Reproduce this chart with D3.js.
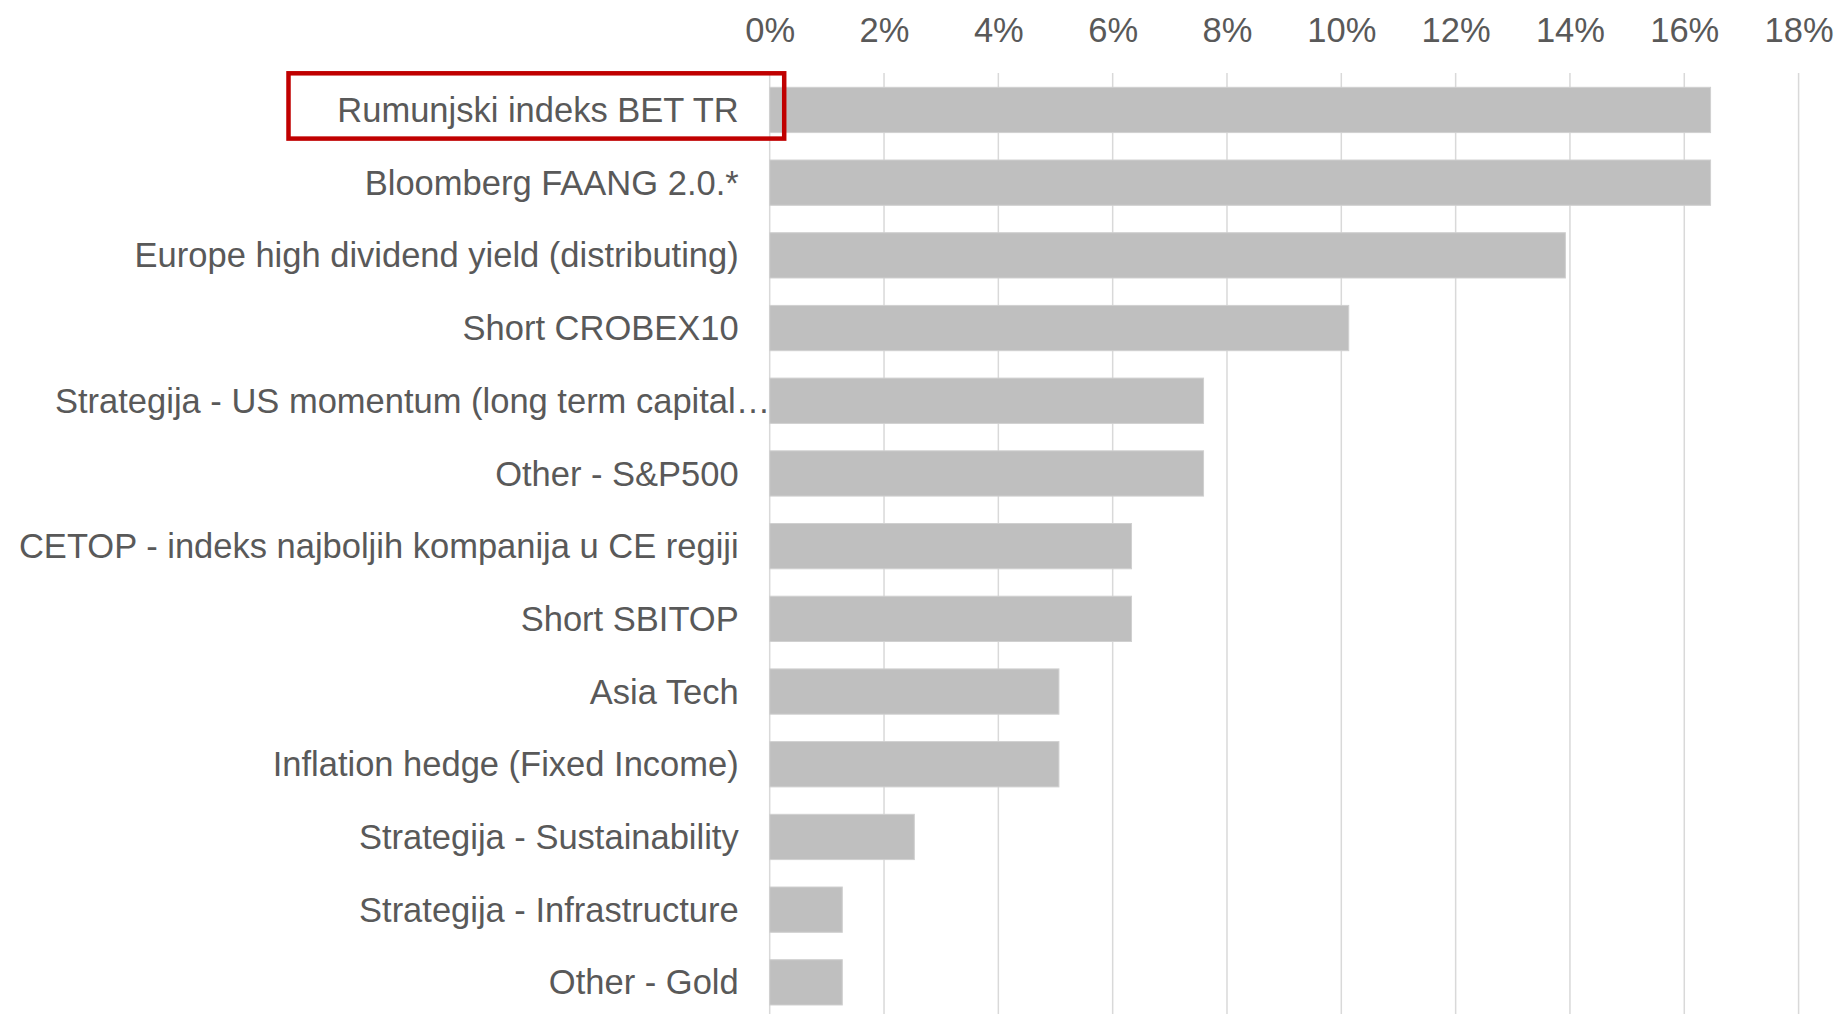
<!DOCTYPE html>
<html>
<head>
<meta charset="utf-8">
<script src="https://cdn.jsdelivr.net/npm/d3@7"></script>
<style>
  html, body { margin: 0; padding: 0; background: #fff; }
  svg { display: block; font-family: Arial, "Liberation Sans", sans-serif; }
</style>
</head>
<body>
<svg id="chart" width="1841" height="1014"></svg>
<script>
// categories, top to bottom
var categories = [
  "Rumunjski indeks BET TR",
  "Bloomberg FAANG 2.0.*",
  "Europe high dividend yield (distributing)",
  "Short CROBEX10",
  "Strategija - US momentum (long term capital\u2026",
  "Other - S&P500",
  "CETOP - indeks najboljih kompanija u CE regiji",
  "Short SBITOP",
  "Asia Tech",
  "Inflation hedge (Fixed Income)",
  "Strategija - Sustainability",
  "Strategija - Infrastructure",
  "Other - Gold"
];
// share of votes, %
var values = [16.46, 16.46, 13.92, 10.13, 7.59, 7.59, 6.33, 6.33, 5.06, 5.06, 2.53, 1.27, 1.27];
var tickValues = [0, 2, 4, 6, 8, 10, 12, 14, 16, 18];
var highlighted = "Rumunjski indeks BET TR";

var svg = d3.select("#chart");
var fontSize = 34.5;
var textColor = "#595959";

var x = d3.scaleLinear().domain([0, 18]).range([769.7, 1798.6]);
var y = d3.scaleBand()
    .domain(categories)
    .range([73.6, 1018.7])
    .paddingInner(0.377)
    .paddingOuter(0.1885);

// gridlines
svg.append("g")
    .selectAll("line")
    .data(tickValues)
    .enter().append("line")
    .attr("x1", function(d) { return x(d); })
    .attr("x2", function(d) { return x(d); })
    .attr("y1", 73)
    .attr("y2", 1014)
    .attr("stroke", "#d9d9d9")
    .attr("stroke-width", 1.5);

// top axis labels
var xAxis = d3.axisTop(x)
    .tickValues(tickValues)
    .tickSize(0)
    .tickPadding(0)
    .tickFormat(function(d) { return d + "%"; });

var ax = svg.append("g")
    .attr("transform", "translate(0,41.7)")
    .call(xAxis);
ax.select(".domain").remove();
ax.selectAll("text")
    .attr("dy", 0)
    .attr("fill", textColor)
    .style("font-size", fontSize + "px")
    .style("font-family", "Arial, 'Liberation Sans', sans-serif");

// bars
svg.append("g")
    .selectAll("rect")
    .data(categories)
    .enter().append("rect")
    .attr("x", x(0))
    .attr("y", function(d) { return y(d); })
    .attr("width", function(d, i) { return x(values[i]) - x(0); })
    .attr("height", y.bandwidth())
    .attr("fill", "#bfbfbf")
    .attr("stroke", "#d0d0d0")
    .attr("stroke-width", 1);

// category labels (a label cut off with an ellipsis starts at the left margin)
var labelX = x(0) - 31;
var cutLeft = 55;
svg.append("g")
    .selectAll("text")
    .data(categories)
    .enter().append("text")
    .attr("y", function(d) { return y(d) + y.bandwidth() / 2; })
    .attr("dy", "0.35em")
    .attr("fill", textColor)
    .style("font-size", fontSize + "px")
    .attr("x", function(d) { return d.slice(-1) == "\u2026" ? cutLeft : labelX; })
    .attr("text-anchor", function(d) { return d.slice(-1) == "\u2026" ? "start" : "end"; })
    .text(function(d) { return d; });

// highlight box around the first category
var yb = y(highlighted);
svg.append("rect")
    .attr("x", 288.5)
    .attr("y", yb - 14)
    .attr("width", x(0) + 14.5 - 288.5)
    .attr("height", y.bandwidth() + 20)
    .attr("fill", "none")
    .attr("stroke", "#c00000")
    .attr("stroke-width", 4.5);
</script>
</body>
</html>
